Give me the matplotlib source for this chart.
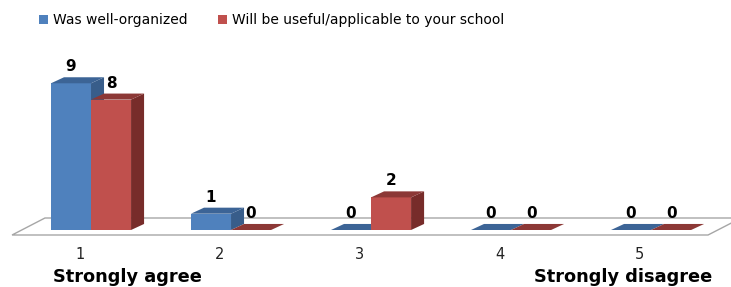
import numpy as np
import matplotlib.pyplot as plt
from matplotlib.patches import Polygon, Patch

# survey answers per rating (1 = strongly agree ... 5 = strongly disagree)
categories = ['1', '2', '3', '4', '5']
well_organized = [9, 1, 0, 0, 0]
useful = [8, 0, 2, 0, 0]
series_names = ['Was well-organized', 'Will be useful/applicable to your school']

# colours: front, side, top
blue = ('#4F81BD', '#385D8A', '#3C6496')
red = ('#C0504D', '#772C2A', '#8C3836')

fig = plt.figure(figsize=(7.31, 2.87), dpi=100)
ax = fig.add_axes([0, 0, 1, 1])
ax.set_xlim(0.35, 5.571)
ax.set_ylim(-3.497, 14.11)
ax.axis('off')

bw = 0.286   # bar width in category units
ddx = 0.093  # depth offset x
ddy = 0.37   # depth offset y

# floor
floor = Polygon([(0.436, -0.307), (5.407, -0.307), (5.643, 0.736), (0.671, 0.736)],
                closed=True, facecolor='white', edgecolor='#A6A6A6', lw=1.0, zorder=1)
ax.add_patch(floor)


def bar3d(x0, h, cols):
    front, side, top = cols
    if h > 0:
        ax.add_patch(Polygon([(x0, 0), (x0 + bw, 0), (x0 + bw, h), (x0, h)],
                             closed=True, facecolor=front, edgecolor='none', zorder=2))
        ax.add_patch(Polygon([(x0 + bw, 0), (x0 + bw + ddx, ddy), (x0 + bw + ddx, h + ddy), (x0 + bw, h)],
                             closed=True, facecolor=side, edgecolor='none', zorder=2))
    ax.add_patch(Polygon([(x0, h), (x0 + bw, h), (x0 + bw + ddx, h + ddy), (x0 + ddx, h + ddy)],
                         closed=True, facecolor=top, edgecolor='none', zorder=2))
    ax.annotate(str(h), (x0 + bw / 2, h + ddy), xytext=(0, 7.5), textcoords='offset points',
                ha='center', va='center', fontsize=11, fontweight='bold', zorder=3)


xs = np.arange(1, len(categories) + 1)
for i, c in enumerate(xs):
    bar3d(c - bw, well_organized[i], blue)
    bar3d(c, useful[i], red)

for i, c in enumerate(xs):
    ax.text(c - 0.08, -1.53, categories[i], ha='center', va='center', fontsize=10.5, color='#222222')

ax.text(1.26, -2.88, 'Strongly agree', ha='center', va='center', fontsize=12.8, fontweight='bold')
ax.text(4.80, -2.88, 'Strongly disagree', ha='center', va='center', fontsize=12.8, fontweight='bold')

handles = [Patch(facecolor=blue[0]), Patch(facecolor=red[0])]
fig.legend(handles, series_names, loc='center', bbox_to_anchor=(272 / 731, 1 - 20 / 287),
           ncol=2, frameon=False, fontsize=10, handlelength=0.6, handleheight=0.6,
           handletextpad=0.4, columnspacing=2.2)

fig.savefig('out.png', dpi=100)
